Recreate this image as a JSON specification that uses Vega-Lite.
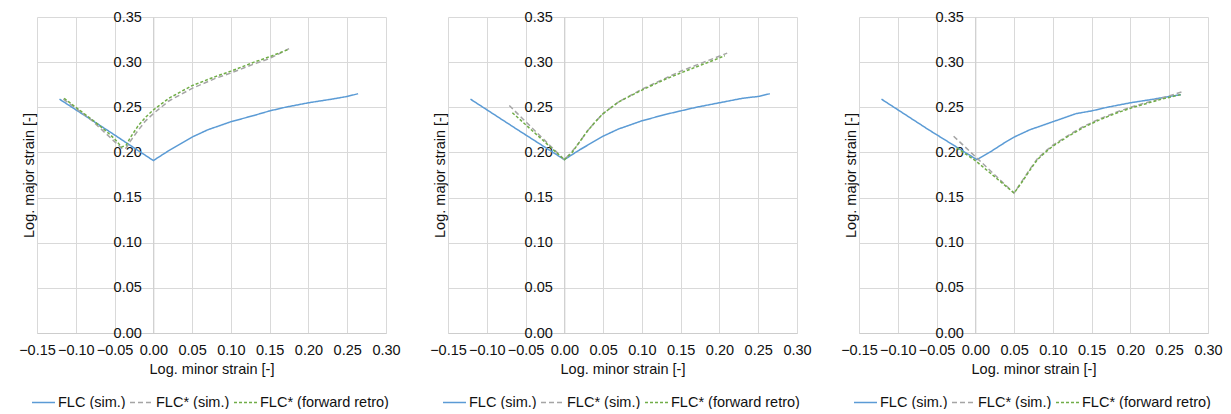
{
  "$schema": "https://vega.github.io/schema/vega-lite/v6.json",
  "background": "white",
  "padding": {"left": 18, "top": 9, "right": 0, "bottom": 0},
  "spacing": 62,
  "bounds": "flush",
  "datasets": {
    "flc": [
      {"panel": 1, "series": "FLC (sim.)", "minor": -0.121, "major": 0.259},
      {"panel": 1, "series": "FLC (sim.)", "minor": -0.06, "major": 0.225},
      {"panel": 1, "series": "FLC (sim.)", "minor": 0.0, "major": 0.191},
      {"panel": 1, "series": "FLC (sim.)", "minor": 0.02, "major": 0.202},
      {"panel": 1, "series": "FLC (sim.)", "minor": 0.04, "major": 0.212},
      {"panel": 1, "series": "FLC (sim.)", "minor": 0.05, "major": 0.217},
      {"panel": 1, "series": "FLC (sim.)", "minor": 0.07, "major": 0.225},
      {"panel": 1, "series": "FLC (sim.)", "minor": 0.09, "major": 0.231},
      {"panel": 1, "series": "FLC (sim.)", "minor": 0.10, "major": 0.234},
      {"panel": 1, "series": "FLC (sim.)", "minor": 0.13, "major": 0.241},
      {"panel": 1, "series": "FLC (sim.)", "minor": 0.15, "major": 0.246},
      {"panel": 1, "series": "FLC (sim.)", "minor": 0.17, "major": 0.250},
      {"panel": 1, "series": "FLC (sim.)", "minor": 0.20, "major": 0.255},
      {"panel": 1, "series": "FLC (sim.)", "minor": 0.23, "major": 0.259},
      {"panel": 1, "series": "FLC (sim.)", "minor": 0.25, "major": 0.262},
      {"panel": 1, "series": "FLC (sim.)", "minor": 0.264, "major": 0.265},
      {"panel": 1, "series": "FLC* (sim.)", "minor": -0.116, "major": 0.259},
      {"panel": 1, "series": "FLC* (sim.)", "minor": -0.10, "major": 0.249},
      {"panel": 1, "series": "FLC* (sim.)", "minor": -0.08, "major": 0.236},
      {"panel": 1, "series": "FLC* (sim.)", "minor": -0.06, "major": 0.220},
      {"panel": 1, "series": "FLC* (sim.)", "minor": -0.05, "major": 0.212},
      {"panel": 1, "series": "FLC* (sim.)", "minor": -0.04, "major": 0.204},
      {"panel": 1, "series": "FLC* (sim.)", "minor": -0.035, "major": 0.205},
      {"panel": 1, "series": "FLC* (sim.)", "minor": -0.03, "major": 0.212},
      {"panel": 1, "series": "FLC* (sim.)", "minor": -0.02, "major": 0.224},
      {"panel": 1, "series": "FLC* (sim.)", "minor": -0.01, "major": 0.235},
      {"panel": 1, "series": "FLC* (sim.)", "minor": 0.0, "major": 0.243},
      {"panel": 1, "series": "FLC* (sim.)", "minor": 0.02, "major": 0.257},
      {"panel": 1, "series": "FLC* (sim.)", "minor": 0.05, "major": 0.271},
      {"panel": 1, "series": "FLC* (sim.)", "minor": 0.08, "major": 0.282},
      {"panel": 1, "series": "FLC* (sim.)", "minor": 0.10, "major": 0.288},
      {"panel": 1, "series": "FLC* (sim.)", "minor": 0.13, "major": 0.298},
      {"panel": 1, "series": "FLC* (sim.)", "minor": 0.15, "major": 0.304},
      {"panel": 1, "series": "FLC* (sim.)", "minor": 0.175, "major": 0.315},
      {"panel": 1, "series": "FLC* (forward retro)", "minor": -0.115, "major": 0.260},
      {"panel": 1, "series": "FLC* (forward retro)", "minor": -0.10, "major": 0.250},
      {"panel": 1, "series": "FLC* (forward retro)", "minor": -0.08, "major": 0.237},
      {"panel": 1, "series": "FLC* (forward retro)", "minor": -0.06, "major": 0.223},
      {"panel": 1, "series": "FLC* (forward retro)", "minor": -0.05, "major": 0.215},
      {"panel": 1, "series": "FLC* (forward retro)", "minor": -0.041, "major": 0.206},
      {"panel": 1, "series": "FLC* (forward retro)", "minor": -0.035, "major": 0.208},
      {"panel": 1, "series": "FLC* (forward retro)", "minor": -0.03, "major": 0.216},
      {"panel": 1, "series": "FLC* (forward retro)", "minor": -0.02, "major": 0.229},
      {"panel": 1, "series": "FLC* (forward retro)", "minor": -0.01, "major": 0.239},
      {"panel": 1, "series": "FLC* (forward retro)", "minor": 0.0, "major": 0.247},
      {"panel": 1, "series": "FLC* (forward retro)", "minor": 0.02, "major": 0.260},
      {"panel": 1, "series": "FLC* (forward retro)", "minor": 0.05, "major": 0.274},
      {"panel": 1, "series": "FLC* (forward retro)", "minor": 0.08, "major": 0.284},
      {"panel": 1, "series": "FLC* (forward retro)", "minor": 0.10, "major": 0.290},
      {"panel": 1, "series": "FLC* (forward retro)", "minor": 0.13, "major": 0.300},
      {"panel": 1, "series": "FLC* (forward retro)", "minor": 0.15, "major": 0.306},
      {"panel": 1, "series": "FLC* (forward retro)", "minor": 0.174, "major": 0.314},

      {"panel": 2, "series": "FLC (sim.)", "minor": -0.121, "major": 0.259},
      {"panel": 2, "series": "FLC (sim.)", "minor": -0.06, "major": 0.225},
      {"panel": 2, "series": "FLC (sim.)", "minor": 0.0, "major": 0.192},
      {"panel": 2, "series": "FLC (sim.)", "minor": 0.02, "major": 0.203},
      {"panel": 2, "series": "FLC (sim.)", "minor": 0.04, "major": 0.213},
      {"panel": 2, "series": "FLC (sim.)", "minor": 0.05, "major": 0.218},
      {"panel": 2, "series": "FLC (sim.)", "minor": 0.07, "major": 0.226},
      {"panel": 2, "series": "FLC (sim.)", "minor": 0.09, "major": 0.232},
      {"panel": 2, "series": "FLC (sim.)", "minor": 0.10, "major": 0.235},
      {"panel": 2, "series": "FLC (sim.)", "minor": 0.13, "major": 0.242},
      {"panel": 2, "series": "FLC (sim.)", "minor": 0.15, "major": 0.246},
      {"panel": 2, "series": "FLC (sim.)", "minor": 0.17, "major": 0.250},
      {"panel": 2, "series": "FLC (sim.)", "minor": 0.20, "major": 0.255},
      {"panel": 2, "series": "FLC (sim.)", "minor": 0.23, "major": 0.260},
      {"panel": 2, "series": "FLC (sim.)", "minor": 0.25, "major": 0.262},
      {"panel": 2, "series": "FLC (sim.)", "minor": 0.265, "major": 0.265},
      {"panel": 2, "series": "FLC* (sim.)", "minor": -0.071, "major": 0.252},
      {"panel": 2, "series": "FLC* (sim.)", "minor": 0.0, "major": 0.192},
      {"panel": 2, "series": "FLC* (sim.)", "minor": 0.01, "major": 0.201},
      {"panel": 2, "series": "FLC* (sim.)", "minor": 0.02, "major": 0.212},
      {"panel": 2, "series": "FLC* (sim.)", "minor": 0.03, "major": 0.224},
      {"panel": 2, "series": "FLC* (sim.)", "minor": 0.04, "major": 0.234},
      {"panel": 2, "series": "FLC* (sim.)", "minor": 0.05, "major": 0.243},
      {"panel": 2, "series": "FLC* (sim.)", "minor": 0.07, "major": 0.256},
      {"panel": 2, "series": "FLC* (sim.)", "minor": 0.10, "major": 0.270},
      {"panel": 2, "series": "FLC* (sim.)", "minor": 0.13, "major": 0.282},
      {"panel": 2, "series": "FLC* (sim.)", "minor": 0.15, "major": 0.290},
      {"panel": 2, "series": "FLC* (sim.)", "minor": 0.18, "major": 0.300},
      {"panel": 2, "series": "FLC* (sim.)", "minor": 0.21, "major": 0.310},
      {"panel": 2, "series": "FLC* (forward retro)", "minor": -0.067, "major": 0.244},
      {"panel": 2, "series": "FLC* (forward retro)", "minor": 0.0, "major": 0.192},
      {"panel": 2, "series": "FLC* (forward retro)", "minor": 0.01, "major": 0.200},
      {"panel": 2, "series": "FLC* (forward retro)", "minor": 0.02, "major": 0.212},
      {"panel": 2, "series": "FLC* (forward retro)", "minor": 0.03, "major": 0.224},
      {"panel": 2, "series": "FLC* (forward retro)", "minor": 0.04, "major": 0.234},
      {"panel": 2, "series": "FLC* (forward retro)", "minor": 0.05, "major": 0.243},
      {"panel": 2, "series": "FLC* (forward retro)", "minor": 0.07, "major": 0.256},
      {"panel": 2, "series": "FLC* (forward retro)", "minor": 0.10, "major": 0.269},
      {"panel": 2, "series": "FLC* (forward retro)", "minor": 0.13, "major": 0.281},
      {"panel": 2, "series": "FLC* (forward retro)", "minor": 0.15, "major": 0.288},
      {"panel": 2, "series": "FLC* (forward retro)", "minor": 0.18, "major": 0.298},
      {"panel": 2, "series": "FLC* (forward retro)", "minor": 0.207, "major": 0.307},

      {"panel": 3, "series": "FLC (sim.)", "minor": -0.121, "major": 0.259},
      {"panel": 3, "series": "FLC (sim.)", "minor": -0.06, "major": 0.225},
      {"panel": 3, "series": "FLC (sim.)", "minor": 0.002, "major": 0.192},
      {"panel": 3, "series": "FLC (sim.)", "minor": 0.02, "major": 0.201},
      {"panel": 3, "series": "FLC (sim.)", "minor": 0.04, "major": 0.212},
      {"panel": 3, "series": "FLC (sim.)", "minor": 0.05, "major": 0.217},
      {"panel": 3, "series": "FLC (sim.)", "minor": 0.07, "major": 0.225},
      {"panel": 3, "series": "FLC (sim.)", "minor": 0.09, "major": 0.231},
      {"panel": 3, "series": "FLC (sim.)", "minor": 0.10, "major": 0.234},
      {"panel": 3, "series": "FLC (sim.)", "minor": 0.13, "major": 0.243},
      {"panel": 3, "series": "FLC (sim.)", "minor": 0.15, "major": 0.246},
      {"panel": 3, "series": "FLC (sim.)", "minor": 0.17, "major": 0.250},
      {"panel": 3, "series": "FLC (sim.)", "minor": 0.20, "major": 0.255},
      {"panel": 3, "series": "FLC (sim.)", "minor": 0.23, "major": 0.259},
      {"panel": 3, "series": "FLC (sim.)", "minor": 0.25, "major": 0.262},
      {"panel": 3, "series": "FLC (sim.)", "minor": 0.265, "major": 0.264},
      {"panel": 3, "series": "FLC* (sim.)", "minor": -0.028, "major": 0.218},
      {"panel": 3, "series": "FLC* (sim.)", "minor": 0.05, "major": 0.155},
      {"panel": 3, "series": "FLC* (sim.)", "minor": 0.06, "major": 0.168},
      {"panel": 3, "series": "FLC* (sim.)", "minor": 0.07, "major": 0.181},
      {"panel": 3, "series": "FLC* (sim.)", "minor": 0.08, "major": 0.193},
      {"panel": 3, "series": "FLC* (sim.)", "minor": 0.09, "major": 0.201},
      {"panel": 3, "series": "FLC* (sim.)", "minor": 0.10, "major": 0.208},
      {"panel": 3, "series": "FLC* (sim.)", "minor": 0.12, "major": 0.219},
      {"panel": 3, "series": "FLC* (sim.)", "minor": 0.14, "major": 0.229},
      {"panel": 3, "series": "FLC* (sim.)", "minor": 0.16, "major": 0.237},
      {"panel": 3, "series": "FLC* (sim.)", "minor": 0.18, "major": 0.244},
      {"panel": 3, "series": "FLC* (sim.)", "minor": 0.20, "major": 0.250},
      {"panel": 3, "series": "FLC* (sim.)", "minor": 0.22, "major": 0.255},
      {"panel": 3, "series": "FLC* (sim.)", "minor": 0.24, "major": 0.260},
      {"panel": 3, "series": "FLC* (sim.)", "minor": 0.266, "major": 0.267},
      {"panel": 3, "series": "FLC* (forward retro)", "minor": -0.024, "major": 0.205},
      {"panel": 3, "series": "FLC* (forward retro)", "minor": 0.0, "major": 0.191},
      {"panel": 3, "series": "FLC* (forward retro)", "minor": 0.05, "major": 0.155},
      {"panel": 3, "series": "FLC* (forward retro)", "minor": 0.06, "major": 0.167},
      {"panel": 3, "series": "FLC* (forward retro)", "minor": 0.07, "major": 0.180},
      {"panel": 3, "series": "FLC* (forward retro)", "minor": 0.08, "major": 0.192},
      {"panel": 3, "series": "FLC* (forward retro)", "minor": 0.09, "major": 0.200},
      {"panel": 3, "series": "FLC* (forward retro)", "minor": 0.10, "major": 0.207},
      {"panel": 3, "series": "FLC* (forward retro)", "minor": 0.12, "major": 0.218},
      {"panel": 3, "series": "FLC* (forward retro)", "minor": 0.14, "major": 0.228},
      {"panel": 3, "series": "FLC* (forward retro)", "minor": 0.16, "major": 0.236},
      {"panel": 3, "series": "FLC* (forward retro)", "minor": 0.18, "major": 0.243},
      {"panel": 3, "series": "FLC* (forward retro)", "minor": 0.20, "major": 0.249},
      {"panel": 3, "series": "FLC* (forward retro)", "minor": 0.22, "major": 0.254},
      {"panel": 3, "series": "FLC* (forward retro)", "minor": 0.24, "major": 0.259},
      {"panel": 3, "series": "FLC* (forward retro)", "minor": 0.265, "major": 0.264}
    ]
  },
  "resolve": {"legend": {"color": "independent", "strokeDash": "independent"}},
  "hconcat": [
    {
      "width": 349, "height": 316,
      "data": {"name": "flc"},
      "transform": [{"filter": "datum.panel == 1"}],
      "mark": {"type": "line", "strokeWidth": 1.5},
      "encoding": {
        "x": {"field": "minor", "type": "quantitative", "scale": {"domain": [-0.15, 0.30], "nice": false, "zero": false}, "axis": {"title": "Log. minor strain [-]", "values": [-0.15, -0.10, -0.05, 0.0, 0.05, 0.10, 0.15, 0.20, 0.25, 0.30], "format": ".2f"}},
        "y": {"field": "major", "type": "quantitative", "scale": {"domain": [0, 0.35], "nice": false}, "axis": {"title": "Log. major strain [-]", "values": [0, 0.05, 0.10, 0.15, 0.20, 0.25, 0.30, 0.35], "format": ".2f", "offset": -116.33, "titleX": -124, "titleY": 158}},
        "color": {"field": "series", "type": "nominal", "sort": null, "scale": {"domain": ["FLC (sim.)", "FLC* (sim.)", "FLC* (forward retro)"], "range": ["#5B9BD5", "#A5A5A5", "#70AD47"]}},
        "strokeDash": {"field": "series", "type": "nominal", "sort": null, "scale": {"domain": ["FLC (sim.)", "FLC* (sim.)", "FLC* (forward retro)"], "range": [[1, 0], [5, 3], [3, 2]]}}
      }
    },
    {
      "width": 349, "height": 316,
      "data": {"name": "flc"},
      "transform": [{"filter": "datum.panel == 2"}],
      "mark": {"type": "line", "strokeWidth": 1.5},
      "encoding": {
        "x": {"field": "minor", "type": "quantitative", "scale": {"domain": [-0.15, 0.30], "nice": false, "zero": false}, "axis": {"title": "Log. minor strain [-]", "values": [-0.15, -0.10, -0.05, 0.0, 0.05, 0.10, 0.15, 0.20, 0.25, 0.30], "format": ".2f"}},
        "y": {"field": "major", "type": "quantitative", "scale": {"domain": [0, 0.35], "nice": false}, "axis": {"title": "Log. major strain [-]", "values": [0, 0.05, 0.10, 0.15, 0.20, 0.25, 0.30, 0.35], "format": ".2f", "offset": -116.33, "titleX": -124, "titleY": 158}},
        "color": {"field": "series", "type": "nominal", "sort": null, "scale": {"domain": ["FLC (sim.)", "FLC* (sim.)", "FLC* (forward retro)"], "range": ["#5B9BD5", "#A5A5A5", "#70AD47"]}},
        "strokeDash": {"field": "series", "type": "nominal", "sort": null, "scale": {"domain": ["FLC (sim.)", "FLC* (sim.)", "FLC* (forward retro)"], "range": [[1, 0], [5, 3], [3, 2]]}}
      }
    },
    {
      "width": 349, "height": 316,
      "data": {"name": "flc"},
      "transform": [{"filter": "datum.panel == 3"}],
      "mark": {"type": "line", "strokeWidth": 1.5},
      "encoding": {
        "x": {"field": "minor", "type": "quantitative", "scale": {"domain": [-0.15, 0.30], "nice": false, "zero": false}, "axis": {"title": "Log. minor strain [-]", "values": [-0.15, -0.10, -0.05, 0.0, 0.05, 0.10, 0.15, 0.20, 0.25, 0.30], "format": ".2f"}},
        "y": {"field": "major", "type": "quantitative", "scale": {"domain": [0, 0.35], "nice": false}, "axis": {"title": "Log. major strain [-]", "values": [0, 0.05, 0.10, 0.15, 0.20, 0.25, 0.30, 0.35], "format": ".2f", "offset": -116.33, "titleX": -124, "titleY": 158}},
        "color": {"field": "series", "type": "nominal", "sort": null, "scale": {"domain": ["FLC (sim.)", "FLC* (sim.)", "FLC* (forward retro)"], "range": ["#5B9BD5", "#A5A5A5", "#70AD47"]}},
        "strokeDash": {"field": "series", "type": "nominal", "sort": null, "scale": {"domain": ["FLC (sim.)", "FLC* (sim.)", "FLC* (forward retro)"], "range": [[1, 0], [5, 3], [3, 2]]}}
      }
    }
  ],
  "config": {
    "view": {"stroke": null},
    "font": "Liberation Sans",
    "axis": {
      "labelFont": "Liberation Sans", "labelFontSize": 14.5, "labelColor": "#111111",
      "titleFont": "Liberation Sans", "titleFontSize": 14.5, "titleFontWeight": "normal", "titleColor": "#111111",
      "ticks": false, "grid": true, "gridColor": "#d9d9d9", "gridWidth": 1,
      "domainColor": "#cdcdcd", "domainWidth": 1,
      "labelFlush": false, "labelOverlap": false
    },
    "axisX": {"labelPadding": 10, "titlePadding": 6},
    "axisY": {"labelPadding": 12, "titleBaseline": "middle", "titleAlign": "center"},
    "legend": {
      "orient": "none", "legendX": -6, "legendY": 373, "direction": "horizontal",
      "title": null, "padding": 0, "symbolType": "stroke", "symbolSize": 529, "symbolStrokeWidth": 1.5,
      "labelFont": "Liberation Sans", "labelFontSize": 14.5, "labelColor": "#111111",
      "labelOffset": 2, "columnPadding": 1
    }
  }
}
